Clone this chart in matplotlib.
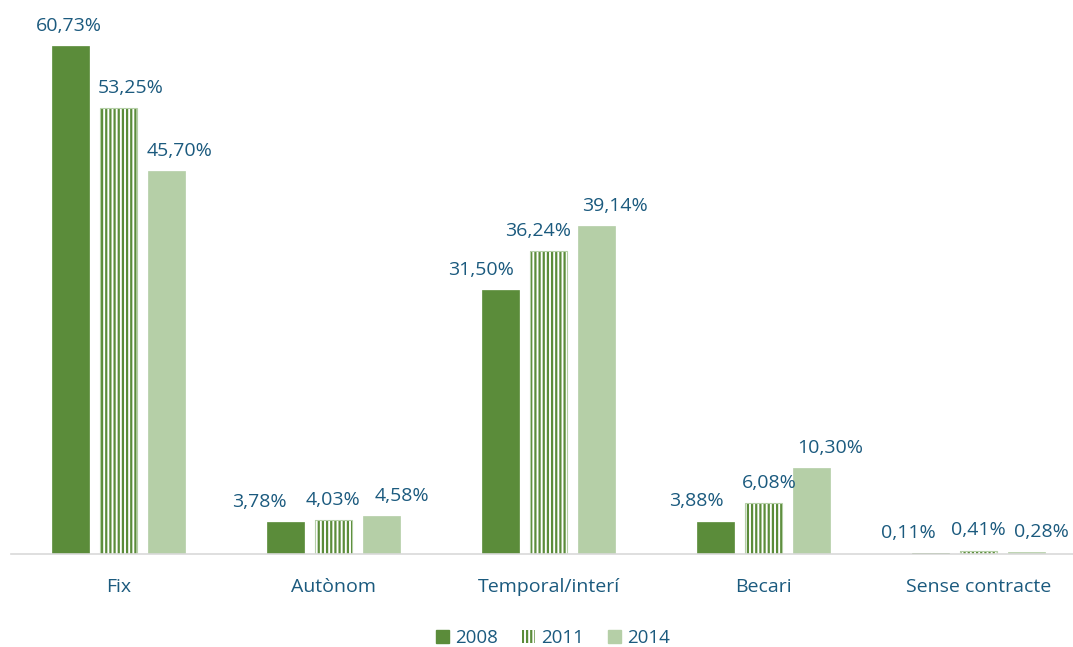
import matplotlib
matplotlib.use("Agg")
import matplotlib.pyplot as plt
import numpy as np
from matplotlib.patches import Patch

categories = ["Fix", "Autònom", "Temporal/interí", "Becari", "Sense contracte"]
years = ["2008", "2011", "2014"]
v2008 = [60.73, 3.78, 31.50, 3.88, 0.11]
v2011 = [53.25, 4.03, 36.24, 6.08, 0.41]
v2014 = [45.70, 4.58, 39.14, 10.30, 0.28]

# horizontal label nudges (pixels) to mimic the reference placement
nudge2008 = [-2, -26, -20, -19, -22]
nudge2011 = [12, 0, -10, 6, 0]
nudge2014 = [13, 20, 18, 19, 15]

plt.rcParams['font.family'] = ['Open Sans', 'DejaVu Sans']
plt.rcParams['hatch.linewidth'] = 1.6

txt_color = "#1B5A7E"
dark = "#5B8C3A"
light = "#B5CFA7"

fig = plt.figure(figsize=(10.73, 6.47), dpi=100)
ax = fig.add_axes([11/1073, (647-554)/647, 1075/1073, 534/647])

x = np.arange(len(categories))
w = 0.172
step = 0.223

b1 = ax.bar(x - step, v2008, w, color=dark, edgecolor=dark, linewidth=0.5)
plt.rcParams['hatch.color'] = dark
b2 = ax.bar(x, v2011, w, color="white", edgecolor=dark, hatch="||||", linewidth=0)
ax.bar(x, v2011, w, color="none", edgecolor=light, linewidth=0.8)
b3 = ax.bar(x + step, v2014, w, color=light, edgecolor=light, linewidth=0.5)

def fmt(v):
    return f"{v:.2f}".replace(".", ",") + "%"

for bars, vals, nud in [(b1, v2008, nudge2008), (b2, v2011, nudge2011), (b3, v2014, nudge2014)]:
    for r, v, n in zip(bars, vals, nud):
        ax.annotate(fmt(v), (r.get_x() + r.get_width()/2, v), xytext=(n*0.72, 8),
                    textcoords="offset points", ha="center", va="bottom",
                    fontsize=14, color=txt_color)

ax.set_xlim(-0.5, len(categories) - 0.5)
ax.set_ylim(0, 534/8.37)
ax.set_xticks(x)
ax.set_xticklabels(categories, fontsize=14, color=txt_color)
ax.tick_params(axis="x", length=0, pad=17)
ax.set_yticks([])
for s in ["top", "right", "left"]:
    ax.spines[s].set_visible(False)
ax.spines["bottom"].set_color("#D9D9D9")
ax.spines["bottom"].set_linewidth(1.2)

handles = [Patch(facecolor=dark, edgecolor=dark),
           Patch(facecolor="white", edgecolor=dark, hatch="||||", linewidth=0),
           Patch(facecolor=light, edgecolor=light)]
fig.legend(handles, years, loc="center", bbox_to_anchor=(553/1073, 1 - 638/647), ncol=3,
           frameon=False, fontsize=13.5, labelcolor=txt_color, handlelength=0.7,
           handleheight=0.7, handletextpad=0.3, columnspacing=1.3)

fig.savefig("out.png", dpi=100)
